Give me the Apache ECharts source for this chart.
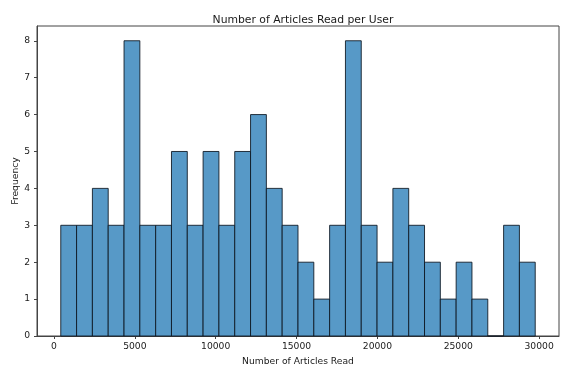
<!DOCTYPE html>
<html>
<head>
<meta charset="utf-8">
<script src="https://cdn.jsdelivr.net/npm/echarts@6/dist/echarts.min.js"></script>
<style>
  html, body { margin: 0; padding: 0; background: #fff; }
  #chart { width: 562px; height: 368px; }
</style>
</head>
<body>
<div id="chart"></div>
<script>
// Histogram of articles read per user: 30 equal-width bins
const binLow = 420;
const binHigh = 29760;
const counts = [3, 3, 4, 3, 8, 3, 3, 5, 3, 5, 3, 5, 6, 4, 3, 2, 1, 3, 8, 3, 2, 4, 3, 2, 1, 2, 1, 0, 3, 2];
const xTicks = [0, 5000, 10000, 15000, 20000, 25000, 30000];
const yTicks = [0, 1, 2, 3, 4, 5, 6, 7, 8];

const binWidth = (binHigh - binLow) / counts.length;
const bins = counts.map((c, i) => [binLow + i * binWidth, binLow + (i + 1) * binWidth, c]);

const font = 'DejaVu Sans';
const textColor = '#1a1a1a';

const chart = echarts.init(document.getElementById('chart'), null, { renderer: 'canvas' });
chart.setOption({
  animation: false,
  backgroundColor: '#fff',
  title: {
    text: 'Number of Articles Read per User',
    left: 298,
    top: 10,
    textAlign: 'center',
    textStyle: { fontFamily: font, fontSize: 10.8, fontWeight: 'normal', color: textColor }
  },
  grid: {
    left: 37, right: 3, top: 26, bottom: 32,
    outerBoundsMode: 'none',
    containLabel: false,
    show: true, borderColor: '#444', borderWidth: 1, backgroundColor: 'transparent'
  },
  xAxis: {
    type: 'value',
    min: -1050,
    max: 31230,
    name: 'Number of Articles Read',
    nameLocation: 'middle',
    nameGap: 21,
    nameTextStyle: { fontFamily: font, fontSize: 9.2, color: textColor },
    splitLine: { show: false },
    axisLine: { show: true, onZero: false, lineStyle: { color: '#444', width: 1 } },
    axisTick: { show: true, length: 3, customValues: xTicks, lineStyle: { color: '#444' } },
    axisLabel: {
      customValues: xTicks, fontFamily: font, fontSize: 9.2, color: textColor, margin: 6,
      formatter: v => String(v)
    }
  },
  yAxis: {
    type: 'value',
    min: 0,
    max: 8.4,
    name: 'Frequency',
    nameLocation: 'middle',
    nameGap: 17,
    nameMoveOverlap: false,
    nameRotate: 90,
    nameTextStyle: { fontFamily: font, fontSize: 9.2, color: textColor },
    splitLine: { show: false },
    axisLine: { show: true, onZero: false, lineStyle: { color: '#444', width: 1 } },
    axisTick: { show: true, length: 3, customValues: yTicks, lineStyle: { color: '#444' } },
    axisLabel: { customValues: yTicks, fontFamily: font, fontSize: 9.2, color: textColor, margin: 7 }
  },
  series: [{
    type: 'custom',
    data: bins,
    encode: { x: [0, 1], y: 2 },
    renderItem: function (params, api) {
      const topLeft = api.coord([api.value(0), api.value(2)]);
      const bottomRight = api.coord([api.value(1), 0]);
      return {
        type: 'rect',
        shape: {
          x: topLeft[0],
          y: topLeft[1],
          width: bottomRight[0] - topLeft[0],
          height: bottomRight[1] - topLeft[1]
        },
        style: { fill: '#5799c7', stroke: 'rgba(10,20,30,0.85)', lineWidth: 1 }
      };
    }
  }]
});
</script>
</body>
</html>
